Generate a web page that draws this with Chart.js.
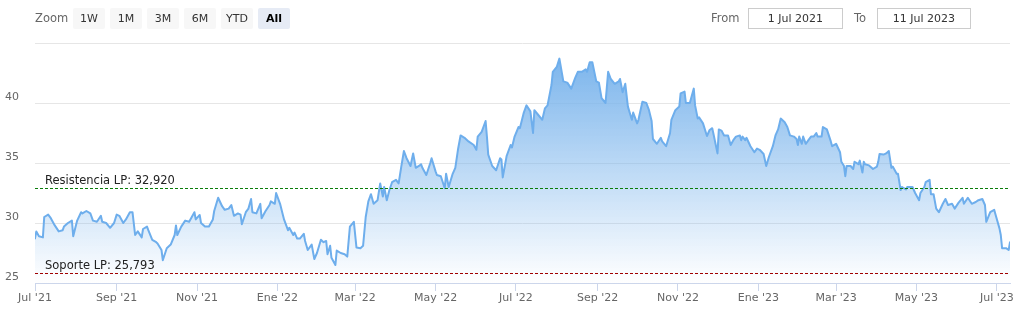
<!DOCTYPE html>
<html>
<head>
<meta charset="utf-8">
<script src="https://cdn.jsdelivr.net/npm/chart.js@4"></script>
<style>
  html, body { margin: 0; padding: 0; background: #fff; }
  #wrap { position: relative; width: 1022px; height: 311px; overflow: hidden; font-family: "DejaVu Sans", sans-serif; }
  #c { position: absolute; left: 0; top: 0; }
  .lbl { position: absolute; top: 8px; height: 21px; line-height: 21px; font-size: 11.5px; color: #666; }
  .btn { position: absolute; top: 8px; width: 32px; height: 21px; line-height: 21px; text-align: center;
         font-size: 11px; color: #333; background: #f7f7f7; border-radius: 2px; }
  .btn.sel { background: #e6ebf5; color: #000; font-weight: bold; }
  .inp { position: absolute; top: 8px; height: 19px; line-height: 19px; border: 1px solid #ccc; text-align: center;
         font-size: 11px; color: #333; background: #fff; }
</style>
</head>
<body>
<div id="wrap">
  <canvas id="c" width="1022" height="311"></canvas>
  <div class="lbl" style="left:35px">Zoom</div>
  <div class="btn" style="left:73px">1W</div>
  <div class="btn" style="left:110px">1M</div>
  <div class="btn" style="left:147px">3M</div>
  <div class="btn" style="left:184px">6M</div>
  <div class="btn" style="left:221px">YTD</div>
  <div class="btn sel" style="left:258px">All</div>
  <div class="lbl" style="left:711px">From</div>
  <div class="inp" style="left:748px;width:93px">1 Jul 2021</div>
  <div class="lbl" style="left:854px">To</div>
  <div class="inp" style="left:877px;width:92px">11 Jul 2023</div>
</div>
<script>
// ---- data ----
const startDate = '2021-07-01';
const endDate = '2023-07-11';
const dayOffsets = [
  0,1,3,6,7,10,12,15,18,21,
  22,25,28,29,32,35,36,39,42,44,
  47,50,51,54,57,60,62,64,67,69,
  72,74,76,78,81,82,85,86,89,92,
  93,96,97,100,103,106,107,108,111,114,
  117,119,121,122,125,126,129,132,135,136,
  139,142,144,147,149,151,154,156,157,160,
  162,164,165,168,171,172,175,178,179,182,
  183,186,189,192,193,196,197,199,201,204,
  205,207,210,212,214,217,219,221,222,224,
  225,228,229,232,235,237,239,242,244,247,
  249,251,253,255,257,260,262,264,265,267,
  269,271,274,276,278,280,282,285,287,289,
  292,293,294,297,300,301,304,305,308,311,
  312,314,317,319,321,323,326,329,333,335,
  336,339,342,343,344,347,350,353,354,355,
  358,361,362,364,367,368,371,373,376,378,
  379,382,385,387,389,392,393,396,398,401,
  404,407,410,412,415,418,419,421,423,426,
  428,430,433,435,437,440,443,444,446,448,
  450,453,454,457,458,461,464,466,468,469,
  472,475,476,479,482,483,486,489,490,493,
  494,497,500,501,503,504,507,510,512,514,
  515,518,519,521,523,526,528,530,532,535,
  536,537,539,540,543,546,548,550,553,555,
  557,560,562,564,566,569,571,573,576,578,
  579,580,582,583,585,587,589,591,593,594,
  597,598,601,604,605,608,611,612,614,615,
  616,619,621,622,625,626,628,629,630,633,
  635,636,639,640,641,644,646,648,650,651,
  654,655,657,658,661,662,664,666,668,671,
  672,675,676,679,680,682,684,686,689,691,
  693,696,698,701,704,705,708,711,714,716,
  719,721,722,725,728,729,732,733,734,737,
  739,740
];
const prices = [
  28.7,29.3,28.9,28.8,30.5,30.7,30.4,29.8,29.3,29.4,
  29.7,30.0,30.2,28.9,30.2,30.9,30.8,31.0,30.8,30.2,
  30.1,30.6,30.1,30.0,29.6,30.0,30.7,30.6,30.0,30.3,
  30.9,30.9,29.0,29.3,28.8,29.5,29.7,29.4,28.6,28.4,
  28.3,27.75,26.9,27.9,28.2,29.0,29.8,29.0,29.7,30.2,
  30.1,30.5,30.9,30.3,30.67,30.0,29.7,29.7,30.3,31.0,
  32.1,31.4,31.1,31.2,31.5,30.6,30.8,30.7,29.9,30.9,
  31.2,32.0,30.9,30.8,31.6,30.4,31.0,31.5,31.8,31.6,
  32.5,31.6,30.3,29.4,29.6,29.0,29.2,28.7,28.7,29.1,
  28.5,27.75,28.2,27.0,27.5,28.6,28.4,28.5,27.4,28.1,
  27.1,26.5,27.7,27.5,27.4,27.2,29.7,30.1,27.95,27.9,
  28.1,30.5,31.8,32.4,31.6,31.9,33.3,32.2,33.0,31.9,
  32.75,33.4,33.6,33.3,34.7,36.0,35.4,34.75,35.8,34.6,
  34.8,34.9,34.6,34.0,35.0,35.4,34.3,34.0,33.9,32.9,
  34.1,33.0,34.1,34.6,36.1,37.3,37.1,36.8,36.5,36.1,
  37.2,37.6,38.5,37.2,35.7,34.75,34.4,35.4,35.3,33.8,
  35.6,36.5,36.3,37.2,38.0,37.9,39.2,39.8,39.3,37.5,
  39.4,39.0,38.6,39.55,39.8,41.5,42.6,43.0,43.7,41.8,
  41.7,41.2,42.1,42.6,42.6,42.8,42.6,43.4,43.4,41.8,
  41.7,40.4,40.0,42.6,42.0,41.6,41.8,42.0,40.9,41.6,
  39.7,38.6,39.2,38.3,38.6,40.1,40.0,39.4,38.5,37.0,
  36.6,37.1,36.8,36.4,37.5,38.6,39.4,39.7,40.8,40.95,
  40.0,40.0,41.2,39.8,38.7,38.8,38.3,37.25,37.75,37.9,
  37.4,35.8,37.8,37.7,37.3,37.3,36.5,36.9,37.2,37.3,
  36.9,37.2,36.9,37.1,36.4,35.9,36.2,36.1,35.75,34.75,
  35.5,36.4,37.3,37.8,38.7,38.4,38.0,37.3,37.2,37.0,
  36.5,37.2,36.6,37.2,36.6,36.9,37.2,37.2,37.5,37.2,
  37.2,38.0,37.8,36.8,36.4,36.6,35.9,35.1,34.75,33.9,
  34.75,34.75,34.5,35.1,34.9,35.2,34.2,35.1,34.9,34.8,
  34.6,34.5,34.7,35.1,35.75,35.7,35.8,36.0,34.6,34.7,
  34.1,34.1,32.75,33.0,32.8,33.0,33.0,33.0,32.5,31.9,
  32.5,33.0,33.4,33.6,32.4,32.4,31.2,30.9,31.6,32.0,
  31.5,31.6,31.2,31.7,32.1,31.6,32.1,31.6,31.75,31.9,
  32.0,31.5,30.1,30.9,31.1,30.7,29.55,29.0,27.9,27.9,
  27.75,28.4
];
const tickDates = ['2021-07-01','2021-09-01','2021-11-01','2022-01-01','2022-03-01','2022-05-01','2022-07-01',
                   '2022-09-01','2022-11-01','2023-01-01','2023-03-01','2023-05-01','2023-07-01'];
const tickLabels = ["Jul '21","Sep '21","Nov '21","Ene '22","Mar '22","May '22","Jul '22",
                    "Sep '22","Nov '22","Ene '23","Mar '23","May '23","Jul '23"];
const yTicks = [25, 30, 35, 40, 45];
const resistanceValue = 32.920;
const supportValue = 25.793;
const refLineNames = ['Resistencia LP', 'Soporte LP'];

// ---- helpers ----
const DAY = 86400000;
const dayOf = s => Math.round((Date.parse(s + 'T00:00:00Z') - Date.parse(startDate + 'T00:00:00Z')) / DAY);
const tickDays = tickDates.map(dayOf);
const lastDay = dayOf(endDate);
const fmt = v => v.toFixed(3).replace('.', ',');
const refLines = [
  { value: resistanceValue, color: '#0a7d0a', text: refLineNames[0] + ': ' + fmt(resistanceValue) },
  { value: supportValue, color: '#a00000', text: refLineNames[1] + ': ' + fmt(supportValue) }
];

const FONT = '"DejaVu Sans", sans-serif';
Chart.defaults.font.family = FONT;

const refLinePlugin = {
  id: 'refLines',
  afterDatasetsDraw(chart) {
    const { ctx, chartArea: ca, scales: { y } } = chart;
    ctx.save();
    refLines.forEach(l => {
      const py = Math.round(y.getPixelForValue(l.value)) + 0.5;
      ctx.strokeStyle = l.color;
      ctx.lineWidth = 1;
      ctx.setLineDash([3, 2]);
      ctx.beginPath();
      ctx.moveTo(ca.left, py);
      ctx.lineTo(ca.right, py);
      ctx.stroke();
      ctx.setLineDash([]);
      ctx.fillStyle = '#222';
      ctx.font = '11.5px ' + FONT;
      ctx.textAlign = 'left';
      ctx.textBaseline = 'alphabetic';
      ctx.fillText(l.text, ca.left + 10, py - 4.5);
    });
    ctx.restore();
  }
};

new Chart(document.getElementById('c'), {
  type: 'line',
  data: {
    datasets: [{
      data: dayOffsets.map((d, i) => ({ x: d, y: prices[i] })),
      borderColor: '#6eaeec',
      borderWidth: 2,
      borderJoinStyle: 'round',
      borderCapStyle: 'round',
      pointRadius: 0,
      tension: 0,
      fill: 'start',
      backgroundColor: (c) => {
        const chart = c.chart;
        const ca = chart.chartArea;
        if (!ca) return 'rgba(124,181,236,0.4)';
        const top = chart.scales.y.getPixelForValue(Math.max(...prices));
        const g = chart.ctx.createLinearGradient(0, top, 0, ca.bottom);
        g.addColorStop(0, 'rgba(124,181,236,1)');
        g.addColorStop(1, 'rgba(124,181,236,0)');
        return g;
      }
    }]
  },
  options: {
    responsive: false,
    animation: false,
    devicePixelRatio: 1,
    layout: { padding: { top: 43, right: 12, left: 0, bottom: 0 } },
    plugins: { legend: { display: false }, tooltip: { enabled: false } },
    scales: {
      x: {
        type: 'linear',
        min: 0,
        max: lastDay,
        afterBuildTicks: s => { s.ticks = tickDays.map(v => ({ value: v })); },
        afterFit: s => { s.height = 28; },
        ticks: {
          autoSkip: false, maxRotation: 0, minRotation: 0,
          color: '#666', font: { size: 11 }, padding: 1,
          callback: (v, i) => tickLabels[tickDays.indexOf(v)]
        },
        grid: { drawOnChartArea: false, drawTicks: true, tickLength: 8, color: '#ccd6eb' },
        border: { color: '#ccd6eb' }
      },
      y: {
        min: 25,
        max: 45,
        afterBuildTicks: s => { s.ticks = yTicks.map(v => ({ value: v })); },
        afterFit: s => { s.width = 35; },
        ticks: {
          color: '#666', font: { size: 11 }, padding: 16, labelOffset: -6,
          callback: v => (v === 45 ? '' : String(v))
        },
        grid: { drawTicks: false, color: c => (c.tick && c.tick.value === 25 ? '#ccd6eb' : '#e6e6e6') },
        border: { display: false }
      }
    }
  },
  plugins: [refLinePlugin]
});
</script>
</body>
</html>
